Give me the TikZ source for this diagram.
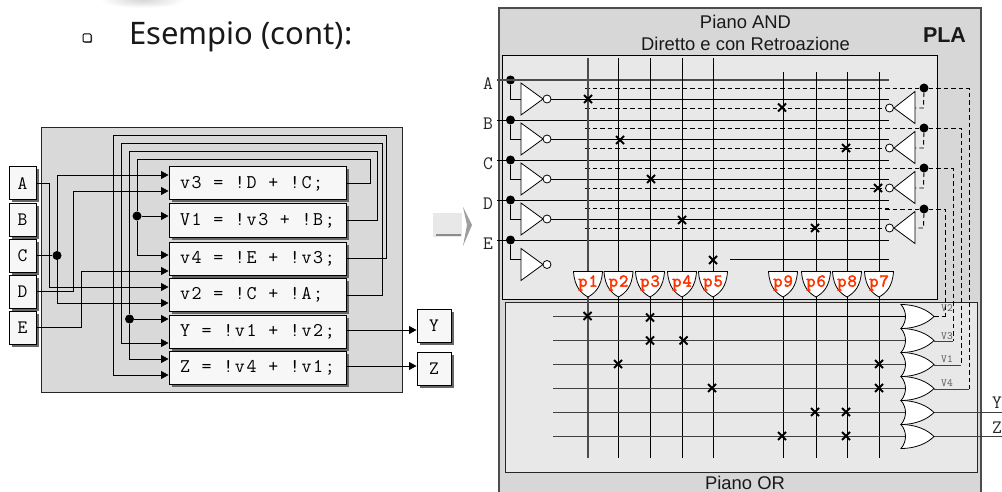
\documentclass[tikz,border=0pt]{standalone}
\usepackage{fontspec}
\setmainfont{Liberation Sans}
\setmonofont[LetterSpace=8.6]{Latin Modern Mono}
\newfontfamily\titlefont{Noto Sans}
\newfontfamily\plabfont[FakeBold=2.5,LetterSpace=6]{Latin Modern Mono}
\newfontfamily\vlabfont{Latin Modern Mono}
\usetikzlibrary{shadows,calc,arrows.meta}
\definecolor{panel}{HTML}{D9D9D9}
\definecolor{plane}{HTML}{E8E8E8}
\definecolor{boxfill}{HTML}{F7F7F7}
\definecolor{pred}{HTML}{FF3300}
\newcommand{\fs}[1]{\fontsize{#1}{#1}\selectfont}
\tikzset{
 wire/.style={draw=black,line width=0.9pt},
 feed/.style={wire,-{Triangle[length=7.5pt,width=8pt]}},
 dwire/.style={draw=black,line width=0.9pt,dash pattern=on 4.5pt off 3pt},
 ebox/.style={draw=black,line width=1pt,fill=boxfill,rectangle,inner sep=0pt,
   drop shadow={shadow xshift=2.5pt,shadow yshift=-2.5pt,fill=black!60,opacity=1},
   font=\ttfamily\fs{19.4}},
 eqbox/.style={ebox,minimum width=177pt,minimum height=33pt,text width=155pt,align=flush left},
 iobox/.style={ebox,font=\vlabfont\fs{19},minimum width=27pt,minimum height=33pt,align=center},
 jdot/.style={circle,fill=black,inner sep=0pt,minimum size=9pt},
 bigdot/.style={circle,fill=black,inner sep=0pt,minimum size=9pt},
 bub/.style={draw=black,line width=0.8pt,fill=white,circle,inner sep=0pt,minimum size=8pt},
 gridv/.style={draw=black,line width=0.9pt},
 gridh/.style={draw=black!75,line width=1.3pt},
 crossm/.style={draw=black,line width=1.9pt},
 plab/.style={font=\plabfont\fs{18},text=pred,inner sep=0pt},
 vlab/.style={font=\vlabfont\fs{11},text=black!65,inner sep=0pt},
 pinlab/.style={font=\vlabfont\fs{19},text=black!85,inner sep=0pt},
}
\newcommand{\crossmark}[2]{\draw[crossm] (#1-4,#2-4) -- (#1+4,#2+4) (#1-4,#2+4) -- (#1+4,#2-4);}
\begin{document}
\begin{tikzpicture}[x=1pt,y=-1pt]
\useasboundingbox (0,0) rectangle (1002,492);
\begin{scope}
\clip (0,0) rectangle (1002,492);
% top smudge
\shade[inner color=black!16,outer color=white] (100,-8) rectangle (185,8);
% title
\node[draw=black,line width=1pt,fill=white,inner sep=0pt,minimum size=8pt,rounded corners=1pt,
  drop shadow={shadow xshift=1pt,shadow yshift=-1pt,fill=black!60,opacity=1}] (bullet) at (87,38) {};
\node[anchor=base west,inner sep=0pt,font=\titlefont\fs{31},text=black!90] (title) at (129,45) {Esempio (cont):};

% ---------- left block
\draw[draw=black!85,line width=1pt,fill=panel] (41,128) rectangle (402,392);
\foreach \n/\t/\y in {a/A/183.5,b/B/220,c/C/255.5,d/D/291.5,e/E/327.5}
  \node[iobox] (\n) at (22.5,\y) {\t};
\node[eqbox] (v3) at (257.5,183.5) {v3 = !D + !C;};
\node[eqbox] (V1) at (257.5,220.5) {V1 = !v3 + !B;};
\node[eqbox] (v4) at (257.5,258.5) {v4 = !E + !v3;};
\node[eqbox] (v2) at (257.5,295) {v2 = !C + !A;};
\node[eqbox] (y) at (257.5,331.5) {Y = !v1 + !v2;};
\node[eqbox] (z) at (257.5,368) {Z = !v4 + !v1;};
\node[iobox,minimum width=34pt] (Yo) at (434,325.5) {Y};
\node[iobox,minimum width=34pt] (Zo) at (434,368.5) {Z};

\node[jdot] (jc) at (57,255.5) {};
\node[jdot] (j1) at (137,216) {};
\node[jdot] (j2) at (129.5,319) {};

\draw[feed] (a.east) -| (49.5,287) -- (v2.west |- 0,287);
\draw[wire] (c.east) -- (jc);
\draw[feed] (jc) |- (v3.west |- 0,175);
\draw[feed] (jc) |- (v2.west |- 0,303);
\draw[feed] (d.east) -| (73,191) -- (v3.west |- 0,191);
\draw[feed] (e.east) -| (81.5,271) -- (v4.west |- 0,271);
\draw[wire] (v3.east) -| (370,159) -| (j1);
\draw[feed] (j1) -- (V1.west |- j1);
\draw[feed] (j1) |- (v4.west |- 0,255);
\draw[wire] (V1.east) -| (377,151) -| (j2);
\draw[feed] (j2) -- (y.west |- j2);
\draw[feed] (j2) |- (z.west |- 0,359);
\draw[feed] (v4.east) -| (386,135) -| (113,375) -- (z.west |- 0,375);
\draw[feed] (v2.east) -| (382,143) -| (121,343) -- (y.west |- 0,343);
\draw[feed] (y.east |- 0,330) -- (Yo.west |- 0,330);
\draw[feed] (z.east |- 0,366) -- (Zo.west |- 0,366);

% ---------- big arrow
\fill[black!9] (433,213) rectangle (462,237);
\draw[black!45,line width=1.4pt] (436,235) -- (461,235);
\fill[black!38] (463,207) -- (472,225) -- (463,246) -- (467,225) -- cycle;

% ---------- PLA
\draw[draw=black!70,line width=1.5pt,fill=panel!105] (499,8) rectangle (981,510);
\draw[draw=black,line width=1pt,fill=plane] (502,56) rectangle (937,299);
\draw[draw=black!85,line width=1pt,fill=plane] (505,302) rectangle (977,472);
\node[font=\fs{18.4},inner sep=0pt,text=black!90] (ptop) at (745.5,22) {Piano AND};
\node[font=\fs{18.4},inner sep=0pt,text=black!90] (pdir) at (745.5,44) {Diretto e con Retroazione};
\node[font=\bfseries\fs{21.5},inner sep=0pt,text=black!90] (pla) at (944.5,35) {PLA};
\node[font=\fs{18.4},inner sep=0pt,text=black!90] (por) at (745,483) {Piano OR};

% input lines
\foreach \n/\t/\yy/\ly in {A/A/80/84,B/B/120/124,C/C/160/164,D/D/200/204,E/E/240/244}{
  \node[pinlab] (l\n) at (488,\ly) {\t};
  \draw[wire] (497,\yy) -- (889,\yy);
  \node[jdot] (d\n) at (510.5,\yy) {};
}
\draw[draw=black!70,line width=1.5pt] (497,80) -- (889,80);
% dashed lines
\foreach \yy in {88,108,128,148,168,188,208,228}
  \draw[dwire] (585,\yy) -- (889,\yy);
% left inverters
\foreach \n/\c/\o in {A/99/99,B/139/139,C/179/179,D/219/219,E/264.5/259}{
  \draw[wire] (d\n) |- (521,\o);
  \draw[draw=black,line width=0.8pt,fill=white] (521,\c-16) -- (543,\c) -- (521,\c+16) -- cycle;
  \node[bub] (bl\n) at (547,\c) {};
}
\foreach \n in {A,B,C,D}{
  \draw[wire] (bl\n.east) -- (bl\n.east -| 889,0);
}
\draw[wire] (730,259) -- (889,259);
% vertical product lines
\foreach \x/\t/\n in {588/58/p1,618.5/58/p2,650/58/p3,682/58/p4,713/58/p5,783/72/p9,816/72/p6,847/72/p8,879/72/p7}{
  \draw[gridv] (\x,\t) -- (\x,458);
}
\draw[draw=black!70,line width=1.3pt] (588,58) -- (588,458);
% p gates
\foreach \x/\n in {588/p1,618.5/p2,650/p3,682/p4,713/p5,783/p9,816/p6,847/p8,879/p7}{
  \draw[draw=black,line width=0.8pt,fill=white] (\x-14.5,271.5) -- (\x+14.5,271.5)
     .. controls (\x+13.5,287) and (\x+7,293) .. (\x,297)
     .. controls (\x-7,293) and (\x-13.5,287) .. (\x-14.5,271.5) -- cycle;
  \node[plab] (\n) at (\x,283) {\n};
}
% right inverters and feedback
\foreach \n/\dy/\c/\vx/\vy in {a/88/108/969/389,b/128/148/961/365,c/168/188/953/341,d/209/228/945/316.5}{
  \node[bigdot] (fd\n) at (924,\dy) {};
  \draw[dwire] (fd\n) -- (923.5,\c) -- (915,\c);
  \draw[draw=black,line width=0.8pt,fill=white] (915,\c-16.5) -- (894,\c) -- (915,\c+15.5) -- cycle;
  \node[bub] (br\n) at (889.5,\c) {};
  \draw[dwire] (885,\dy) -- (fd\n);
  \coordinate (vt\n) at (\vx,\vy);
  \draw[dwire] (fd\n) -| (vt\n);
}
% OR plane
\foreach \yy in {316.5,340.5,364.5,388.5,412.5,436.5}{
  \draw[gridh] (553,\yy) -- (905,\yy);
}
\draw[wire] (654,316.5) -- (905,316.5);
\draw[gridh] (934,412.5) -- (1002,412.5);
\draw[gridh] (934,436.5) -- (1002,436.5);
\draw[draw=black!75,line width=1pt] (934,341) -- (vtc);
\draw[draw=black!75,line width=1pt] (934,365) -- (vtb);
\draw[draw=black!75,line width=1pt] (934,389) -- (vta);
\draw[dwire] (934,316.5) -- (vtd);
% or gates
\foreach \c in {316.5,340.5,364.5,388.5,412.5,436.5}{
  \draw[draw=black,line width=0.8pt,fill=white] (901,\c-12) .. controls (917,\c-12) and (928,\c-6) .. (934,\c)
     .. controls (928,\c+6) and (917,\c+12) .. (901,\c+12)
     .. controls (907,\c+5) and (907,\c-5) .. (901,\c-12) -- cycle;
}
\node[vlab] (v2l) at (947,308) {V2};
\node[vlab] (v3l) at (947,336) {V3};
\node[vlab] (v1l) at (947,359) {V1};
\node[vlab] (v4l) at (947,383) {V4};
\node[pinlab,anchor=east] (yl) at (1002,403) {Y};
\node[pinlab,anchor=east] (zl) at (1002,428) {Z};
% crosses
\foreach \x/\y in {588/99,782/107.5,620/140,846/148,651/179,878/188,682/220,815/228,713/260,
   587.5/316,650/317.5,650/340.5,683.5/340.5,618/364,712/388,879/364,879/388,815/412,846/412,782/436,846/436}{
  \crossmark{\x}{\y}
}
\end{scope}
\end{tikzpicture}
\end{document}
